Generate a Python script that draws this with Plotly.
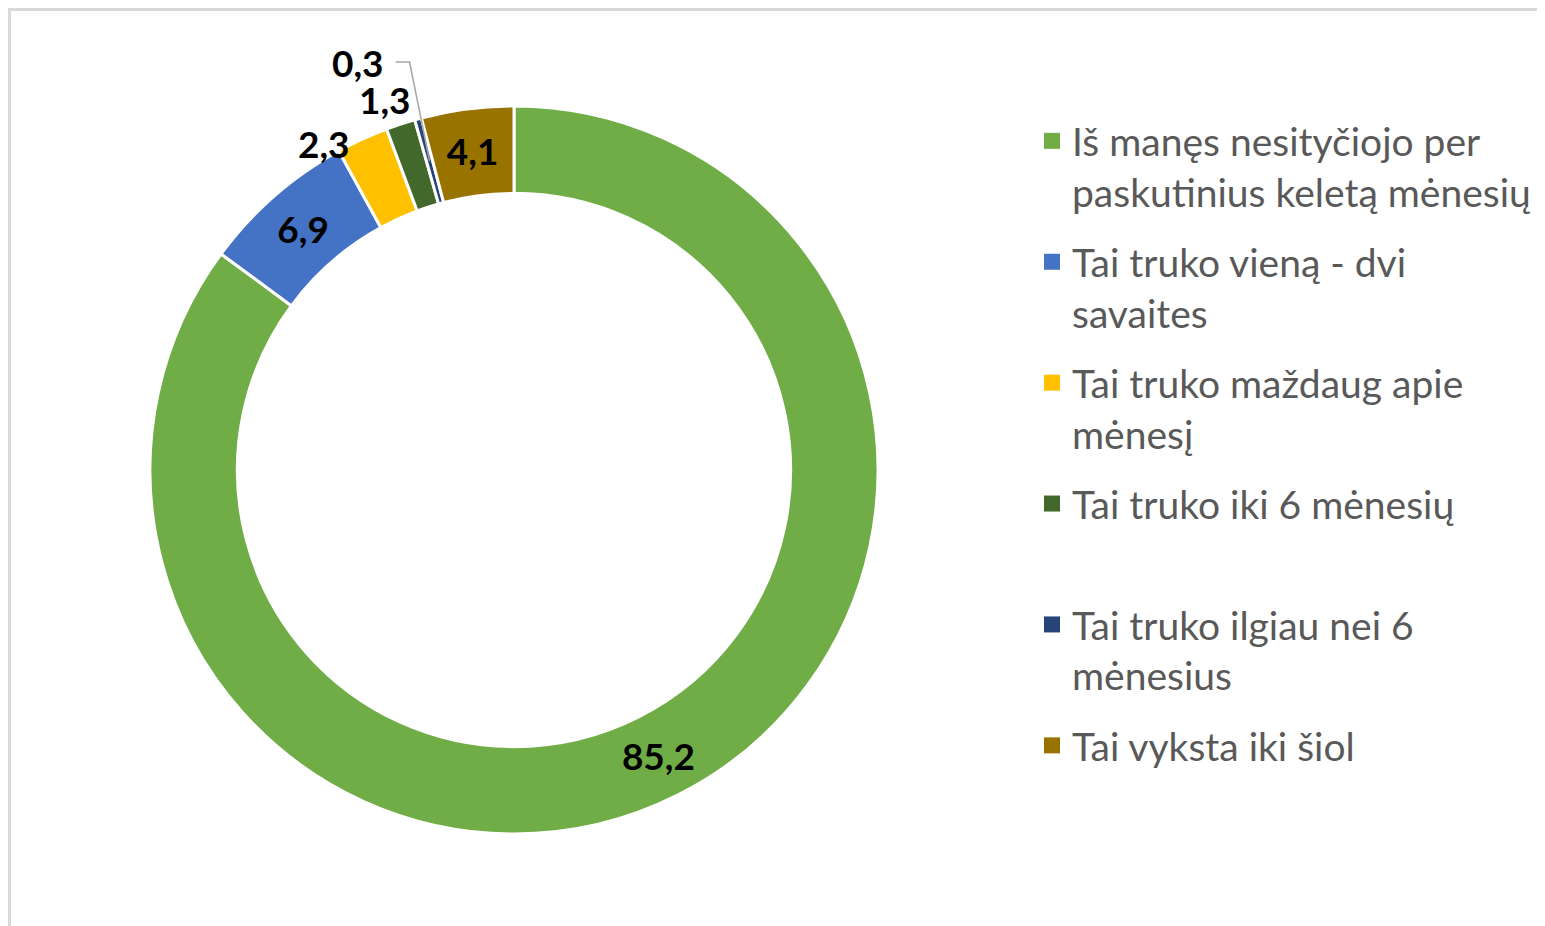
import math
import plotly.graph_objects as go

categories = [
    "Iš manęs nesityčiojo per<br>paskutinius keletą mėnesių",
    "Tai truko vieną - dvi<br>savaites",
    "Tai truko maždaug apie<br>mėnesį",
    "Tai truko iki 6 mėnesių<br> ",
    "Tai truko ilgiau nei 6<br>mėnesius",
    "Tai vyksta iki šiol",
]
values = [85.2, 6.9, 2.3, 1.3, 0.3, 4.1]
value_labels = ["85,2", "6,9", "2,3", "1,3", "0,3", "4,1"]
colors = ["#70AD47", "#4472C4", "#FFC000", "#43682B", "#264478", "#997300"]
inside = [True, True, False, False, False, True]

W, H = 1545, 926
CX, CY, R = 506, 462, 364
HOLE = 0.76
LABEL_FONT = dict(family="Lato", size=37, color="black", weight="bold")

fig = go.Figure()

fig.add_trace(go.Pie(
    values=values,
    labels=[c.replace("<br>", " ") for c in categories],
    text=value_labels,
    texttemplate=[t if ins else "" for t, ins in zip(value_labels, inside)],
    textinfo="text",
    textposition=["inside" if ins else "none" for ins in inside],
    insidetextorientation="horizontal",
    textfont=LABEL_FONT,
    marker=dict(colors=colors, line=dict(color="white", width=3)),
    hole=HOLE,
    sort=False,
    direction="clockwise",
    rotation=0,
    showlegend=False,
    domain=dict(x=[(CX - R) / W, (CX + R) / W], y=[(H - CY - R) / H, (H - CY + R) / H]),
))

# legend via dummy traces for spacing control
for i, (name, col) in enumerate(zip(categories, colors)):
    fig.add_trace(go.Scatter(
        x=[None], y=[None], mode="markers", name=name,
        marker=dict(symbol="square", size=16, color=col),
        legendgroup=str(i), showlegend=True,
    ))

# outside labels for small slices, positioned from slice angles
total = sum(values)
cum = 0
mids = []
for v in values:
    mids.append((cum + v / 2) / total * 360)
    cum += v

def px_to_paper(x, y):
    return x / W, 1 - y / H

annotations = []
# 2,3
th = math.radians(mids[2])
px, py = CX + R * math.sin(th), CY - R * math.cos(th)
x, y = px_to_paper(px, py)
annotations.append(dict(x=x, y=y, xref="paper", yref="paper", text=value_labels[2], showarrow=False,
                        xanchor="right", yanchor="middle", xshift=-10, yshift=-4, font=LABEL_FONT))
# 1,3
th = math.radians(mids[3])
px, py = CX + R * math.sin(th), CY - R * math.cos(th)
x, y = px_to_paper(px, py)
annotations.append(dict(x=x, y=y, xref="paper", yref="paper", text=value_labels[3], showarrow=False,
                        xanchor="right", yanchor="bottom", xshift=12, yshift=0, font=LABEL_FONT))
# 0,3 with elbow leader
th = math.radians(mids[4])
rm = R * (1 + HOLE) / 2
mx, my = CX + rm * math.sin(th), CY - rm * math.cos(th)
ex, ey = mx - 20, my - 99
lx, ly = ex - 14, ey
x, y = px_to_paper(lx - 10, ly)
annotations.append(dict(x=x, y=y, xref="paper", yref="paper", text=value_labels[4], showarrow=False,
                        xanchor="right", yanchor="middle", font=LABEL_FONT))

p1 = px_to_paper(lx, ly)
p2 = px_to_paper(ex, ey)
p3 = px_to_paper(mx, my)
shapes = [
    dict(type="path", xref="paper", yref="paper",
         path=f"M {p1[0]},{p1[1]} L {p2[0]},{p2[1]} L {p3[0]},{p3[1]}",
         line=dict(color="#A6A6A6", width=1.5)),
    dict(type="rect", xref="paper", yref="paper",
         x0=1.5 / W, y0=-0.05, x1=1.05, y1=1 - 1.5 / H,
         line=dict(color="#D9D9D9", width=3), fillcolor="rgba(0,0,0,0)", layer="below"),
]

fig.update_layout(
    width=W, height=H,
    margin=dict(l=0, r=0, t=0, b=0),
    paper_bgcolor="white", plot_bgcolor="white",
    xaxis=dict(visible=False), yaxis=dict(visible=False),
    showlegend=True,
    legend=dict(
        x=1024 / W, y=1 - 101 / H, xanchor="left", yanchor="top",
        font=dict(family="Lato", size=39, color="#595959"),
        valign="top", tracegroupgap=16.5, itemsizing="trace",
        bgcolor="rgba(0,0,0,0)",
    ),
    annotations=annotations,
    shapes=shapes,
)

fig.write_html("out.html")
